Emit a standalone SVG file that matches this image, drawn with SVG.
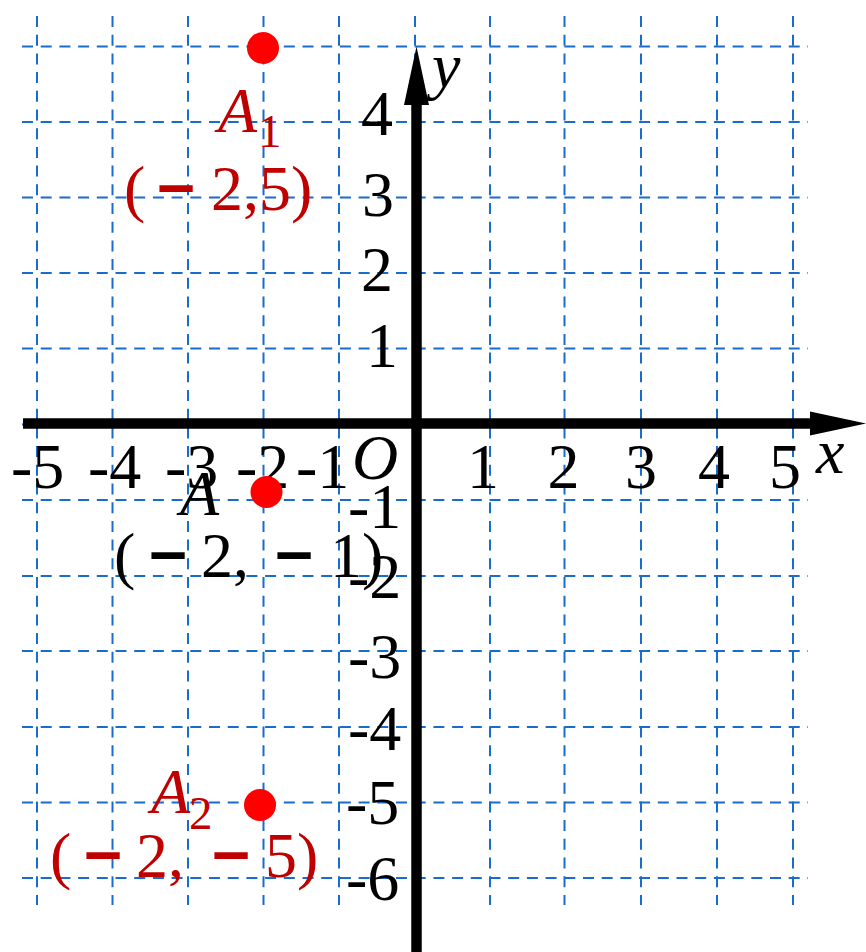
<svg xmlns="http://www.w3.org/2000/svg" width="866" height="952" viewBox="0 0 866 952">
<style>
.grid line{stroke:#1a6ccc;stroke-width:2;stroke-dasharray:11 7.7;fill:none}
.axis{stroke:#000;stroke-width:10.5;fill:none}
.ah{fill:#000}
text{font-family:"Liberation Serif","Times New Roman",serif;font-size:64px;fill:#000}
.it{font-style:italic}
.red{fill:#c00000}
.sub{font-size:47px}
.dot{fill:#ff0000}
.mn{stroke:#000;stroke-width:3.5}
.red .mn{stroke:#c00000}
</style>
<rect width="866" height="952" fill="#fff"/>
<g id="grid" class="grid">
<line x1="37" y1="16" x2="37" y2="905"/>
<line x1="112.5" y1="16" x2="112.5" y2="905"/>
<line x1="188" y1="16" x2="188" y2="905"/>
<line x1="263.5" y1="16" x2="263.5" y2="905"/>
<line x1="339" y1="16" x2="339" y2="905"/>
<line x1="415" y1="16" x2="415" y2="905"/>
<line x1="490" y1="16" x2="490" y2="905"/>
<line x1="564.5" y1="16" x2="564.5" y2="905"/>
<line x1="641" y1="16" x2="641" y2="905"/>
<line x1="717" y1="16" x2="717" y2="905"/>
<line x1="793" y1="16" x2="793" y2="905"/>
<line x1="22" y1="46.5" x2="808" y2="46.5"/>
<line x1="22" y1="122" x2="808" y2="122"/>
<line x1="22" y1="197.5" x2="808" y2="197.5"/>
<line x1="22" y1="273" x2="808" y2="273"/>
<line x1="22" y1="348.5" x2="808" y2="348.5"/>
<line x1="22" y1="424.5" x2="808" y2="424.5"/>
<line x1="22" y1="500" x2="808" y2="500"/>
<line x1="22" y1="576" x2="808" y2="576"/>
<line x1="22" y1="651" x2="808" y2="651"/>
<line x1="22" y1="727" x2="808" y2="727"/>
<line x1="22" y1="802.5" x2="808" y2="802.5"/>
<line x1="22" y1="878" x2="808" y2="878"/>
</g>
<g id="axes">
<line class="axis" x1="23" y1="423.5" x2="812" y2="423.5"/>
<polygon class="ah" points="810,411.5 866,423.5 810,435.5"/>
<line class="axis" x1="416.5" y1="952" x2="416.5" y2="103"/>
<polygon class="ah" points="404,105 416.5,46.5 429,105"/>
<text class="it" x="816" y="473">x</text>
<text class="it" x="432" y="87">y</text>
<text class="it" x="352" y="479">O</text>
</g>
<g id="x-labels">
<text x="11" y="488">-5</text>
<text x="88" y="488">-4</text>
<text x="165" y="488">-3</text>
<text x="236" y="488">-2</text>
<text x="296" y="488">-1</text>
<text x="483" y="488" text-anchor="middle">1</text>
<text x="563.5" y="488" text-anchor="middle">2</text>
<text x="641" y="488" text-anchor="middle">3</text>
<text x="714" y="488" text-anchor="middle">4</text>
<text x="785" y="488" text-anchor="middle">5</text>
</g>
<g id="y-labels">
<text x="361" y="135">4</text>
<text x="362" y="216">3</text>
<text x="361" y="291">2</text>
<text x="366" y="367">1</text>
<text x="348" y="528">-1</text>
<text x="348" y="598">-2</text>
<text x="348" y="678">-3</text>
<text x="348" y="750">-4</text>
<text x="346" y="824">-5</text>
<text x="346" y="900">-6</text>
</g>
<g id="point-A1">
<circle class="dot" cx="263" cy="48" r="16"/>
<text class="it red" x="218" y="132">A</text>
<text class="red sub" x="258" y="147">1</text>
<text class="red" y="210"><tspan x="124">(</tspan><tspan class="mn" x="158">−</tspan><tspan x="211">2,5)</tspan></text>
</g>
<g id="point-A">
<circle class="dot" cx="266.5" cy="492" r="16"/>
<text class="it" x="180" y="515">A</text>
<text y="577"><tspan x="114">(</tspan><tspan class="mn" x="150">−</tspan><tspan x="201">2,</tspan><tspan class="mn" x="276">−</tspan><tspan x="330">1)</tspan></text>
</g>
<g id="point-A2">
<circle class="dot" cx="260" cy="805" r="16"/>
<text class="it red" x="151" y="813">A</text>
<text class="red sub" x="189" y="829">2</text>
<text class="red" y="877"><tspan x="50">(</tspan><tspan class="mn" x="85">−</tspan><tspan x="136">2,</tspan><tspan class="mn" x="213">−</tspan><tspan x="265">5)</tspan></text>
</g>
</svg>
